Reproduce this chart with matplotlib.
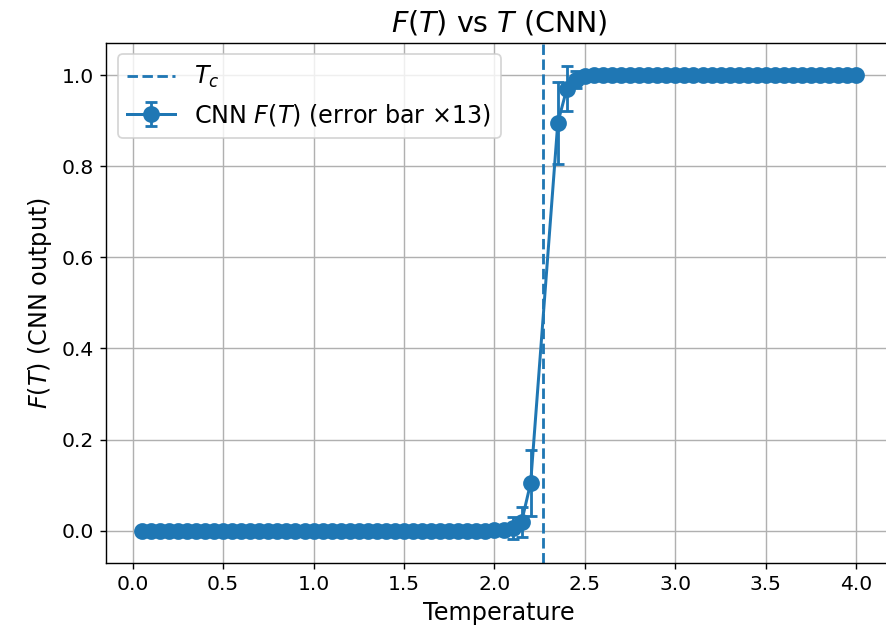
import matplotlib
matplotlib.use("Agg")
import matplotlib.pyplot as plt
import numpy as np

temperatures = [
    0.05, 0.10, 0.15, 0.20, 0.25, 0.30, 0.35, 0.40, 0.45, 0.50,
    0.55, 0.60, 0.65, 0.70, 0.75, 0.80, 0.85, 0.90, 0.95, 1.00,
    1.05, 1.10, 1.15, 1.20, 1.25, 1.30, 1.35, 1.40, 1.45, 1.50,
    1.55, 1.60, 1.65, 1.70, 1.75, 1.80, 1.85, 1.90, 1.95, 2.00,
    2.05, 2.10, 2.15, 2.20,
    2.35, 2.40, 2.45, 2.50, 2.55, 2.60, 2.65, 2.70, 2.75, 2.80,
    2.85, 2.90, 2.95, 3.00, 3.05, 3.10, 3.15, 3.20, 3.25, 3.30,
    3.35, 3.40, 3.45, 3.50, 3.55, 3.60, 3.65, 3.70, 3.75, 3.80,
    3.85, 3.90, 3.95, 4.00,
]

# CNN output F(T)
f_values = [
    0.0, 0.0, 0.0, 0.0, 0.0, 0.0, 0.0, 0.0, 0.0, 0.0,
    0.0, 0.0, 0.0, 0.0, 0.0, 0.0, 0.0, 0.0, 0.0, 0.0,
    0.0, 0.0, 0.0, 0.0, 0.0, 0.0, 0.0, 0.0, 0.0, 0.0,
    0.0, 0.0, 0.0, 0.0, 0.0, 0.0, 0.0, 0.0, 0.0, 0.001,
    0.002, 0.006, 0.020, 0.105,
    0.895, 0.970, 0.990, 0.997, 0.999, 1.0, 1.0, 1.0, 1.0, 1.0,
    1.0, 1.0, 1.0, 1.0, 1.0, 1.0, 1.0, 1.0, 1.0, 1.0,
    1.0, 1.0, 1.0, 1.0, 1.0, 1.0, 1.0, 1.0, 1.0, 1.0,
    1.0, 1.0, 1.0, 1.0,
]

# Raw standard errors (plotted x13)
f_errors = [
    0.0, 0.0, 0.0, 0.0, 0.0, 0.0, 0.0, 0.0, 0.0, 0.0,
    0.0, 0.0, 0.0, 0.0, 0.0, 0.0, 0.0, 0.0, 0.0, 0.0,
    0.0, 0.0, 0.0, 0.0, 0.0, 0.0, 0.0, 0.0, 0.0, 0.0,
    0.0, 0.0, 0.0, 0.0, 0.0, 0.0, 0.0, 0.0, 0.0, 0.0001,
    0.0005, 0.0019, 0.0025, 0.0055,
    0.0069, 0.0038, 0.0015, 0.0005, 0.0001, 0.0, 0.0, 0.0, 0.0, 0.0,
    0.0, 0.0, 0.0, 0.0, 0.0, 0.0, 0.0, 0.0, 0.0, 0.0,
    0.0, 0.0, 0.0, 0.0, 0.0, 0.0, 0.0, 0.0, 0.0, 0.0,
    0.0, 0.0, 0.0, 0.0,
]

error_scale = 13
t_critical = 2.269

W, H, DPI = 886, 636, 127
fig = plt.figure(figsize=(W / DPI, H / DPI), dpi=DPI)
ax = fig.add_axes([106 / W, (H - 563) / H, 786 / W, (563 - 42.5) / H])

T = np.array(temperatures)
F = np.array(f_values)
E = np.array(f_errors) * error_scale

ax.axvline(t_critical, linestyle="--", color="C0", linewidth=1.6, label="$T_c$")
ax.errorbar(T, F, yerr=E, fmt="-o", color="C0", capsize=3.5, markersize=8.5,
            linewidth=1.7, elinewidth=1.6, capthick=1.6,
            label=f"CNN $F(T)$ (error bar \u00d7{error_scale})")

ax.set_xlabel("Temperature", fontsize=13.5)
ax.set_ylabel("$F(T)$ (CNN output)", fontsize=13.5)
ax.set_title("$F(T)$ vs $T$ (CNN)", fontsize=16.2)
ax.tick_params(labelsize=11.5)
ax.grid(True)
ax.legend(loc="upper left", fontsize=13.5)

fig.savefig("out.png", dpi=DPI)
